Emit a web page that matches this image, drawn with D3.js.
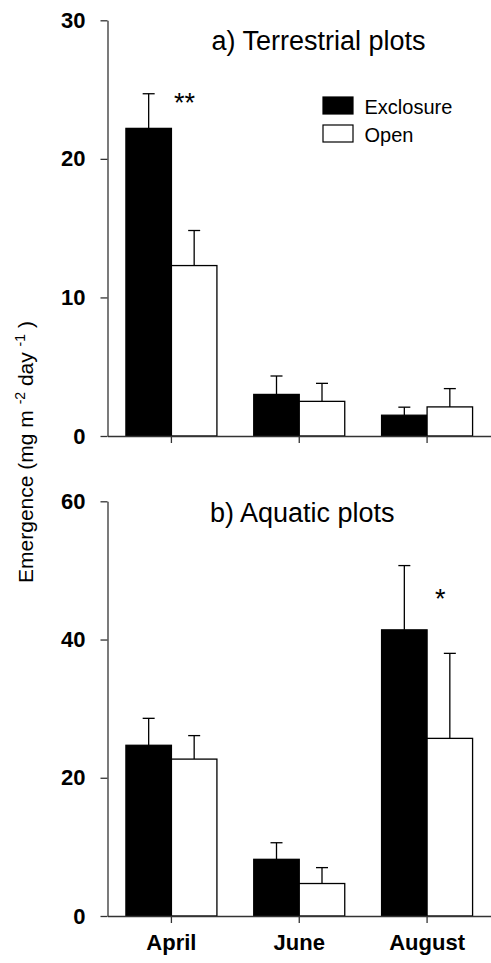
<!DOCTYPE html>
<html>
<head>
<meta charset="utf-8">
<script src="https://cdn.jsdelivr.net/npm/d3@7"></script>
<style>
	body { margin: 0; background: #fff; }
	text { font-family: "Liberation Sans", Arial, sans-serif; fill: #000; }
</style>
</head>
<body>
<svg id="chart" width="491" height="963"></svg>
<script>
// data
var months       = ["April", "June", "August"];
var seriesNames  = ["Exclosure", "Open"];

var terrExclosure   = [22.2, 3.0, 1.5];
var terrExclosureSE = [2.5, 1.33, 0.58];
var terrOpen        = [12.3, 2.5, 2.1];
var terrOpenSE      = [2.53, 1.3, 1.32];

var aquaExclosure   = [24.7, 8.2, 41.4];
var aquaExclosureSE = [3.9, 2.4, 9.3];
var aquaOpen        = [22.7, 4.7, 25.7];
var aquaOpenSE      = [3.4, 2.3, 12.3];

var terrTicks = [0, 10, 20, 30];
var aquaTicks = [0, 20, 40, 60];

var terrStars = [{ month: "April", label: "**", value: 24.4 }];
var aquaStars = [{ month: "August", label: "*", value: 46.6 }];

var svg = d3.select("#chart");

var left = 107.5, right = 491;
var groupWidth = 91;
var capWidth   = 12;

var x = d3.scaleBand().domain(months).range([left, right]).padding(0);
var xInner = d3.scaleBand().domain(seriesNames)
	.range([(x.bandwidth() - groupWidth) / 2, (x.bandwidth() + groupWidth) / 2]);

function panel( opts ){
	var y = d3.scaleLinear().domain(opts.domain).range([opts.bottom, opts.top]);
	var g = svg.append("g");

	var rows = [];
	months.forEach(function(m, i){
		rows.push({ month: m, series: "Exclosure", v: opts.excl[i], se: opts.exclSE[i] });
		rows.push({ month: m, series: "Open",      v: opts.open[i], se: opts.openSE[i] });
	});

	// error bars (upper only)
	var err = g.append("g").attr("stroke", "#000").attr("stroke-width", 1.3);
	rows.forEach(function(d){
		var cx = x(d.month) + xInner(d.series) + xInner.bandwidth() / 2;
		err.append("line").attr("x1", cx).attr("x2", cx)
			.attr("y1", y(d.v)).attr("y2", y(d.v + d.se));
		err.append("line").attr("x1", cx - capWidth/2).attr("x2", cx + capWidth/2)
			.attr("y1", y(d.v + d.se)).attr("y2", y(d.v + d.se));
	});

	// bars
	g.append("g").selectAll("rect").data(rows).enter().append("rect")
		.attr("x", function(d){ return x(d.month) + xInner(d.series); })
		.attr("y", function(d){ return y(d.v); })
		.attr("width", xInner.bandwidth())
		.attr("height", function(d){ return y(0) - y(d.v); })
		.attr("fill", function(d){ return d.series == "Exclosure" ? "#000" : "#fff"; })
		.attr("stroke", "#000")
		.attr("stroke-width", 1.3);

	// y axis
	var yAxis = g.append("g").attr("transform", "translate(" + left + ",0)")
		.call(d3.axisLeft(y).tickValues(opts.ticks).tickSize(7).tickPadding(15).tickSizeOuter(0));
	yAxis.select(".domain").attr("stroke", "#333").attr("stroke-width", 1.3);
	yAxis.selectAll(".tick line").attr("stroke", "#333").attr("stroke-width", 1.3);
	yAxis.selectAll("text").attr("font-size", 22).attr("font-weight", "bold")
		.attr("font-family", "Liberation Sans, Arial, sans-serif");

	// x axis
	var xAxis = g.append("g").attr("transform", "translate(0," + y(0) + ")")
		.call(d3.axisBottom(x).tickSize(7).tickPadding(11).tickSizeOuter(0));
	xAxis.select(".domain").attr("stroke", "#333").attr("stroke-width", 1.3);
	xAxis.selectAll(".tick line").attr("stroke", "#333").attr("stroke-width", 1.3);
	xAxis.selectAll("text").attr("font-size", 22).attr("font-weight", "bold")
		.attr("font-family", "Liberation Sans, Arial, sans-serif")
		.style("display", opts.showMonths ? null : "none");

	// title
	g.append("text").attr("x", opts.titleX).attr("y", opts.titleY)
		.attr("font-size", 27).text(opts.title);

	// significance stars
	opts.stars.forEach(function(s){
		var sx = x(s.month) + xInner("Open") + 0.29 * xInner.bandwidth();
		g.append("text").attr("x", sx).attr("y", y(s.value) + 14)
			.attr("text-anchor", "middle").attr("font-size", 27).text(s.label);
	});

	return g;
}

panel({ domain: [0, 30], top: 20.3, bottom: 436, ticks: terrTicks,
	excl: terrExclosure, exclSE: terrExclosureSE, open: terrOpen, openSE: terrOpenSE,
	title: "a) Terrestrial plots", titleX: 211.5, titleY: 50, stars: terrStars, showMonths: false });

panel({ domain: [0, 60], top: 501.3, bottom: 916, ticks: aquaTicks,
	excl: aquaExclosure, exclSE: aquaExclosureSE, open: aquaOpen, openSE: aquaOpenSE,
	title: "b) Aquatic plots", titleX: 210, titleY: 521.5, stars: aquaStars, showMonths: true });

// legend
var legend = svg.append("g").attr("transform", "translate(323,97)");
seriesNames.forEach(function(name, i){
	legend.append("rect").attr("x", 0).attr("y", i * 28)
		.attr("width", 30).attr("height", 17)
		.attr("fill", i == 0 ? "#000" : "#fff")
		.attr("stroke", "#000").attr("stroke-width", 1.2);
	legend.append("text").attr("x", 41.5).attr("y", i * 28 + 16.5)
		.attr("font-size", 20).text(name);
});

// y label
var yLabel = svg.append("text")
	.attr("transform", "translate(33,452) rotate(-90)")
	.attr("text-anchor", "middle")
	.attr("font-size", 21);
yLabel.append("tspan").text("Emergence (mg m ");
yLabel.append("tspan").attr("dy", -8).attr("font-size", 14).text("-2");
yLabel.append("tspan").attr("dy", 8).text("  day ");
yLabel.append("tspan").attr("dy", -8).attr("font-size", 14).text("-1");
yLabel.append("tspan").attr("dy", 8).text(" )");
</script>
</body>
</html>
